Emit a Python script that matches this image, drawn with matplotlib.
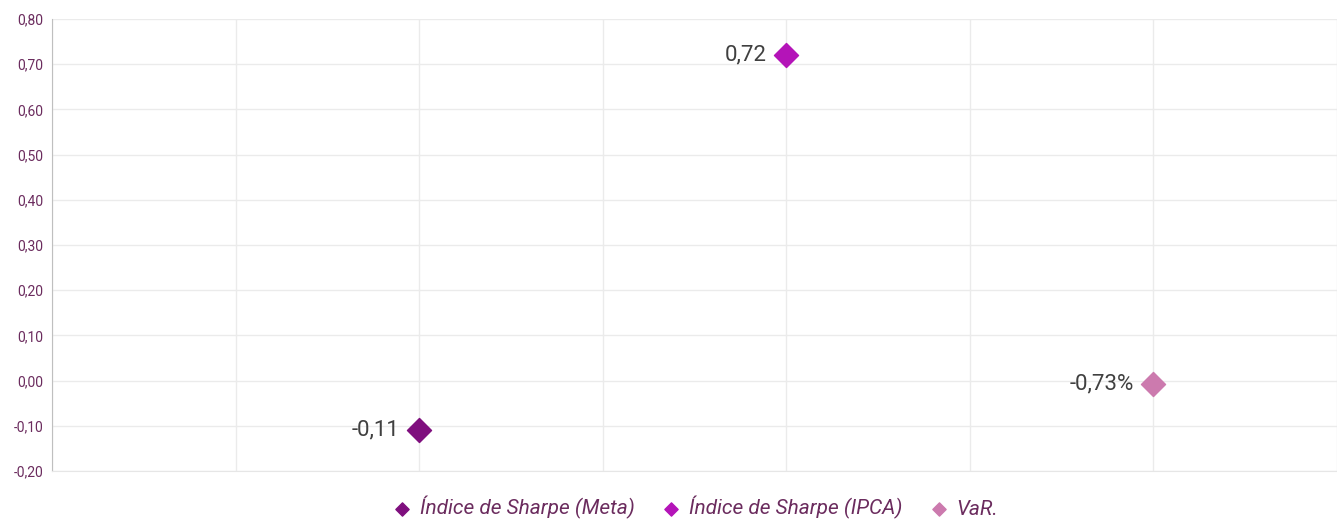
import matplotlib
matplotlib.use("Agg")
import matplotlib.pyplot as plt
from matplotlib import font_manager

# condensed font if available
names = {f.name for f in font_manager.fontManager.ttflist}
font = "Liberation Sans Narrow" if "Liberation Sans Narrow" in names else "Roboto"
plt.rcParams['font.family'] = [font, 'DejaVu Sans']

series = ["Índice de Sharpe (Meta)", "Índice de Sharpe (IPCA)", "VaR."]
x_pos = [2, 4, 6]
values = [-0.11, 0.72, -0.0073]
labels = ["-0,11", "0,72", "-0,73%"]
colors = ["#7F0F7E", "#B414B8", "#CC7AAE"]

fig = plt.figure(figsize=(13.37, 5.2), dpi=100)
ax = fig.add_axes([52 / 1337, 49 / 520, 1 - 52 / 1337, (471 - 19) / 520])

for x, y, lab, c, name in zip(x_pos, values, labels, colors, series):
    ax.scatter([x], [y], marker="D", s=150, color=c, label=name, zorder=3)
    ax.annotate(lab, (x, y), xytext=(-14, 0), textcoords="offset points",
                ha="right", va="center", fontsize=16, color="#404040")

ax.set_xlim(0, 7)
ax.set_ylim(-0.2, 0.8)
ax.set_xticks(range(0, 8))
ax.set_yticks([i / 10 for i in range(-2, 9)])
ax.set_yticklabels([f"{i / 10:.2f}".replace(".", ",") for i in range(-2, 9)])
ax.tick_params(axis="x", length=0, labelbottom=False)
ax.tick_params(axis="y", length=0, labelsize=10, labelcolor="#6B2C5E", pad=6)
ax.grid(True, color="#EBEBEB", linewidth=1)
ax.set_axisbelow(True)
for s in ["top", "right"]:
    ax.spines[s].set_visible(False)
ax.spines["left"].set_color("#BFBFBF")
ax.spines["bottom"].set_color("#E6E6E6")

leg = fig.legend(loc="lower center", bbox_to_anchor=(0.518, -0.035), ncol=3, frameon=False,
                 prop={"size": 15, "style": "italic"}, markerscale=0.55,
                 handletextpad=0.1, columnspacing=1.0, handlelength=1.5)
for t in leg.get_texts():
    t.set_color("#6B2C5E")

fig.savefig("out.png", dpi=100)
